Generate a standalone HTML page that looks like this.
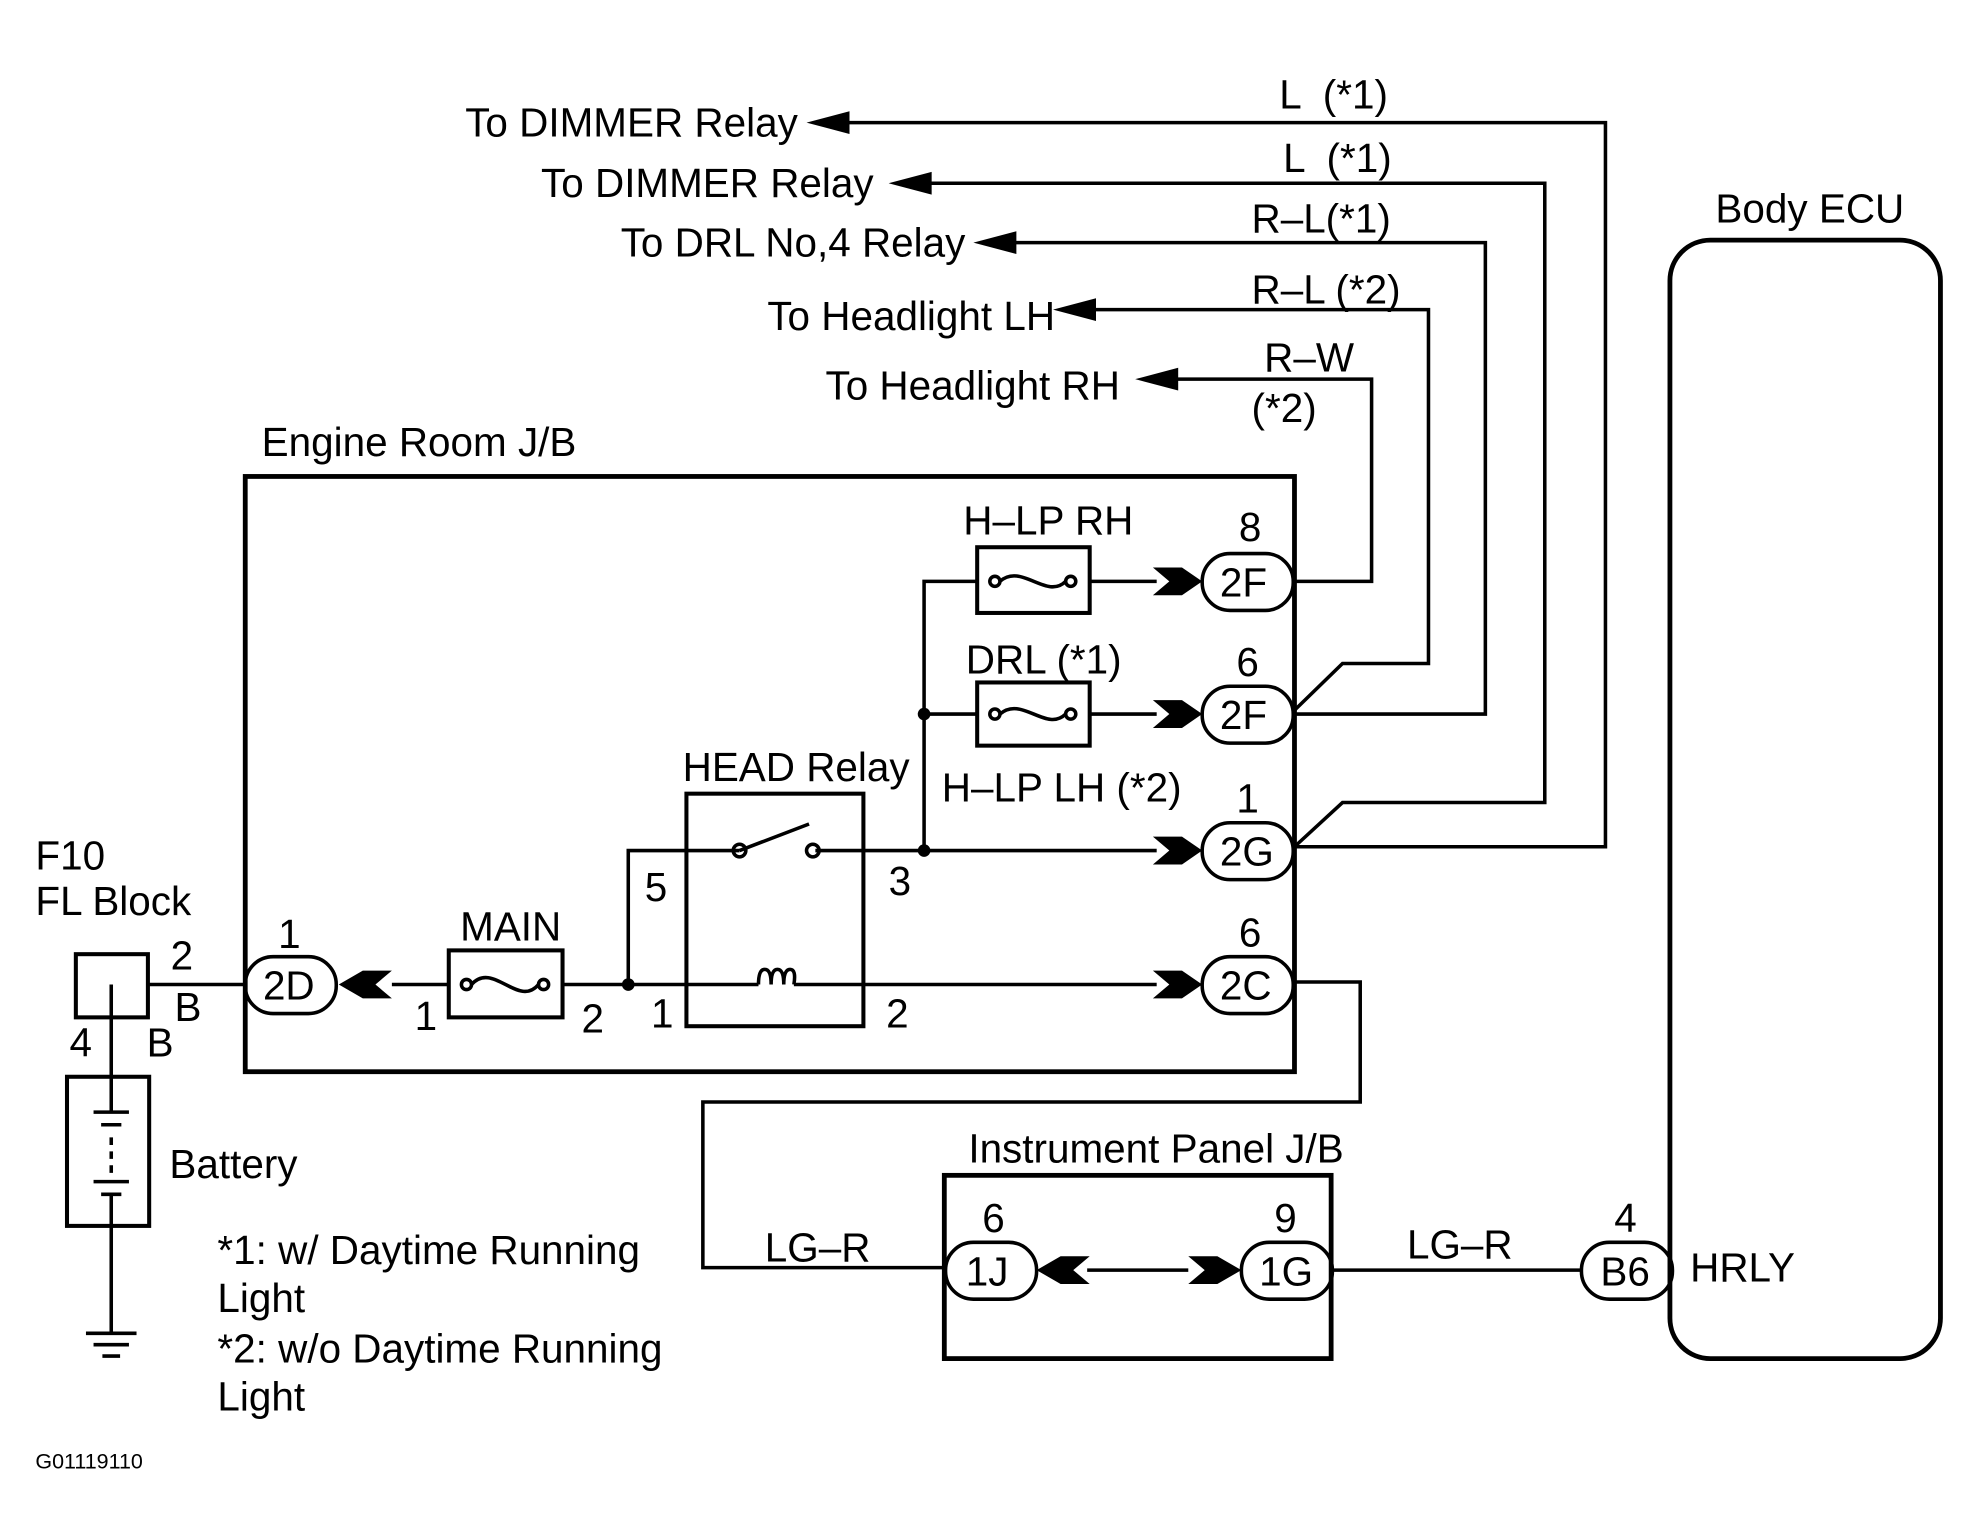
<!DOCTYPE html>
<html><head><meta charset="utf-8"><style>html,body{margin:0;padding:0;background:#fff}svg{display:block}</style></head>
<body>
<svg width="1967" height="1533" viewBox="0 0 1556 1213" preserveAspectRatio="none" xmlns="http://www.w3.org/2000/svg" font-family="Liberation Sans, Arial, sans-serif" font-size="32" fill="#000">
<rect width="1556" height="1213" fill="#fff"/>
<g fill="none" stroke="#000" stroke-width="2.8">
<rect x="194" y="377" width="830" height="471" stroke-width="3.8"/>
<rect x="1321" y="190" width="214" height="885" rx="32" stroke-width="3.8"/>
<rect x="747" y="930" width="306" height="145" stroke-width="3.8"/>
<polyline points="665,97 1270,97 1270,670 1024,670"/>
<polyline points="730,145 1222,145 1222,635 1062,635 1024,670"/>
<polyline points="795,192 1175,192 1175,565 1024,565"/>
<polyline points="855,245 1130,245 1130,525 1062,525 1024,562"/>
<polyline points="925,300 1085,300 1085,460 1024,460"/>
<polyline points="1024,777 1076,777 1076,872 556,872 556,1003 747,1003"/>
<line x1="310" y1="779" x2="355" y2="779"/>
<line x1="445" y1="779" x2="543" y2="779"/>
<line x1="543" y1="779" x2="600" y2="779"/>
<line x1="628" y1="779" x2="915" y2="779"/>
<polyline points="497,779 497,673 585,673"/>
<line x1="585" y1="673" x2="640" y2="652"/>
<line x1="645" y1="673" x2="915" y2="673"/>
<polyline points="731,673 731,460 773,460"/>
<line x1="731" y1="565" x2="773" y2="565"/>
<line x1="862" y1="460" x2="915" y2="460"/>
<line x1="862" y1="565" x2="915" y2="565"/>
<rect x="543" y="628" width="140" height="184" stroke-width="3.2"/>
<rect x="355" y="752" width="90" height="53" stroke-width="3.2"/>
<rect x="773" y="433" width="89" height="52" stroke-width="3.2"/>
<rect x="773" y="540" width="89" height="50" stroke-width="3.2"/>
<circle cx="369" cy="779" r="4"/><circle cx="430" cy="779" r="4"/><path d="M373,779 C390,760 410,798 426,779"/>
<circle cx="787" cy="460" r="4"/><circle cx="847" cy="460" r="4"/><path d="M791,460 C808,445 828,475 843,460"/>
<circle cx="787" cy="565" r="4"/><circle cx="847" cy="565" r="4"/><path d="M791,565 C808,550 828,580 843,565"/>
<path d="M600,779 q0,-12 5,-12 q5,0 5,12 q0,-12 5,-12 q5,0 5,12 q0,-12 5,-12 q5,0 3,12"/>
<circle cx="585" cy="673" r="5"/><circle cx="643" cy="673" r="5"/>
<rect x="951" y="438" width="72" height="45" rx="22"/>
<rect x="951" y="543" width="72" height="45" rx="22"/>
<rect x="951" y="651" width="72" height="45" rx="22"/>
<rect x="951" y="757" width="72" height="45" rx="22"/>
<rect x="194" y="757" width="72" height="45" rx="22"/>
<rect x="748" y="983" width="72" height="45" rx="22"/>
<rect x="982" y="983" width="72" height="45" rx="22"/>
<rect x="1251" y="983" width="72" height="45" rx="22"/>
<line x1="860" y1="1005" x2="940" y2="1005"/>
<line x1="1054" y1="1005" x2="1251" y2="1005"/>
<rect x="60" y="755" width="57" height="50" stroke-width="3.2"/>
<line x1="117" y1="779" x2="194" y2="779"/>
<polyline points="88,779 88,852"/>
<rect x="53" y="852" width="65" height="118" stroke-width="3.2"/>
<line x1="88" y1="852" x2="88" y2="880"/><line x1="74" y1="880" x2="102" y2="880"/>
<line x1="80" y1="890" x2="96" y2="890"/>
<line x1="88" y1="900" x2="88" y2="930" stroke-dasharray="6,5"/>
<line x1="74" y1="935" x2="102" y2="935"/><line x1="80" y1="945" x2="96" y2="945"/>
<line x1="88" y1="945" x2="88" y2="1055"/>
<line x1="68" y1="1055" x2="108" y2="1055"/><line x1="74" y1="1064" x2="102" y2="1064"/><line x1="81" y1="1073" x2="95" y2="1073"/>
</g>
<circle cx="497" cy="779" r="5"/><circle cx="731" cy="673" r="5"/><circle cx="731" cy="565" r="5"/>
<g>
<path d="M912,449 L935,449 L951,460 L935,471 L912,471 L925,460Z"/>
<path d="M912,554 L935,554 L951,565 L935,576 L912,576 L925,565Z"/>
<path d="M912,662 L935,662 L951,673 L935,684 L912,684 L925,673Z"/>
<path d="M912,768 L935,768 L951,779 L935,790 L912,790 L925,779Z"/>
<path d="M940,994 L963,994 L982,1005 L963,1016 L940,1016 L953,1005Z"/>
<path d="M310,768 L287,768 L268,779 L287,790 L310,790 L297,779Z"/>
<path d="M862,994 L839,994 L820,1005 L839,1016 L862,1016 L849,1005Z"/>
<path d="M638,97 L672,88 L672,106Z"/>
<path d="M703,145 L737,136 L737,154Z"/>
<path d="M770,192 L804,183 L804,201Z"/>
<path d="M833,245 L867,236 L867,254Z"/>
<path d="M898,300 L932,291 L932,309Z"/>
</g>
<g>
<text x="368" y="108">To DIMMER Relay</text>
<text x="428" y="156">To DIMMER Relay</text>
<text x="491" y="203">To DRL No,4 Relay</text>
<text x="607" y="261">To Headlight LH</text>
<text x="653" y="316">To Headlight RH</text>
<text x="1012" y="86" xml:space="preserve">L  (*1)</text>
<text x="1015" y="136" xml:space="preserve">L  (*1)</text>
<text x="990" y="184">R–L(*1)</text>
<text x="990" y="240">R–L (*2)</text>
<text x="1000" y="294">R–W</text>
<text x="990" y="334">(*2)</text>
<text x="1357" y="176">Body ECU</text>
<text x="207" y="361">Engine Room J/B</text>
<text x="762" y="423">H–LP RH</text>
<text x="980" y="428">8</text>
<text x="764" y="533">DRL (*1)</text>
<text x="978" y="535">6</text>
<text x="540" y="618">HEAD Relay</text>
<text x="745" y="634">H–LP LH (*2)</text>
<text x="978" y="643">1</text>
<text x="980" y="749">6</text>
<text x="510" y="713">5</text>
<text x="703" y="708">3</text>
<text x="364" y="744">MAIN</text>
<text x="220" y="750">1</text>
<text x="328" y="815">1</text>
<text x="460" y="817">2</text>
<text x="515" y="813">1</text>
<text x="701" y="813">2</text>
<text x="28" y="688">F10</text>
<text x="28" y="724">FL Block</text>
<text x="135" y="767">2</text>
<text x="138" y="808">B</text>
<text x="55" y="836">4</text>
<text x="116" y="836">B</text>
<text x="134" y="932">Battery</text>
<text x="172" y="1000">*1: w/ Daytime Running</text>
<text x="172" y="1038">Light</text>
<text x="172" y="1078">*2: w/o Daytime Running</text>
<text x="172" y="1116">Light</text>
<text x="28" y="1162" font-size="17">G01119110</text>
<text x="766" y="920">Instrument Panel J/B</text>
<text x="777" y="975">6</text>
<text x="1008" y="975">9</text>
<text x="1277" y="975">4</text>
<text x="605" y="998">LG–R</text>
<text x="1113" y="996">LG–R</text>
<text x="1337" y="1014">HRLY</text>
<text x="965" y="472">2F</text>
<text x="965" y="577">2F</text>
<text x="965" y="685">2G</text>
<text x="965" y="791">2C</text>
<text x="208" y="791">2D</text>
<text x="764" y="1017">1J</text>
<text x="996" y="1017">1G</text>
<text x="1266" y="1017">B6</text>
</g>
</svg>
</body></html>
